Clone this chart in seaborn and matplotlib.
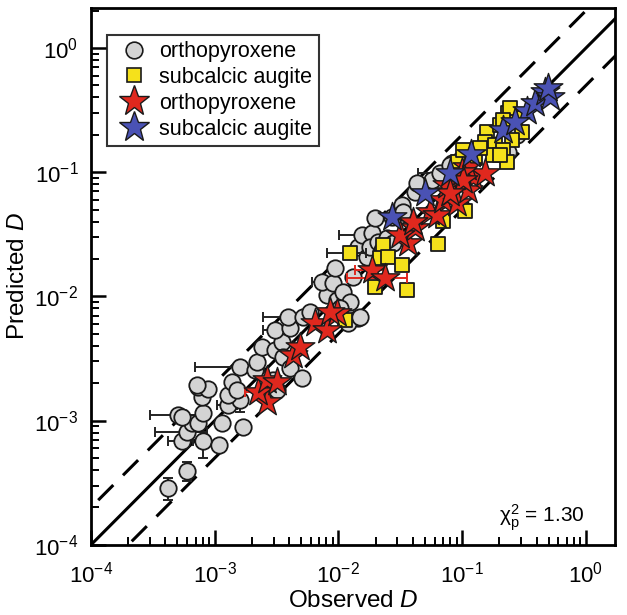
import numpy as np
import pandas as pd
import matplotlib
matplotlib.use("Agg")
import matplotlib.pyplot as plt
import seaborn as sns
from matplotlib.ticker import LogLocator, NullFormatter
from matplotlib.lines import Line2D

# ---------------- data ----------------
# grey circles: orthopyroxene (observed, predicted, x-error, y-error)
opx_obs = [4.19e-4, 5.97e-4, 5.43e-4, 8.04e-4, 1.08e-3, 5.97e-4, 6.55e-4, 7.32e-4, 5.05e-4, 5.43e-4,
           8.04e-4, 1.15e-3, 1.69e-3, 1.28e-3, 1.60e-3, 1.28e-3, 1.38e-3, 1.51e-3, 7.89e-4, 7.32e-4,
           8.81e-4, 7.19e-4, 1.60e-3, 2.11e-3, 2.19e-3, 2.41e-3, 3.07e-3, 3.49e-3, 3.56e-3, 4.06e-3,
           5.07e-3, 3.07e-3, 4.06e-3, 3.91e-3, 5.16e-3, 5.89e-3, 8.07e-3, 7.36e-3, 9.03e-3, 9.73e-3,
           1.09e-2, 2.96e-3, 3.18e-3, 9.37e-3, 1.24e-2, 1.03e-2, 1.44e-2, 1.19e-2, 1.44e-2, 1.70e-2,
           1.55e-2, 1.87e-2, 1.80e-2, 2.09e-2, 2.47e-2, 2.76e-2, 2.25e-2, 1.49e-2, 2.71e-2, 3.26e-2,
           3.14e-2, 4.15e-2, 4.31e-2, 5.70e-2, 8.26e-2, 9.59e-2, 1.97e-2, 1.31e-2, 6.61e-2, 7.96e-2,
           0.234, 0.277, 3.32e-2]
opx_pred = [2.88e-4, 3.94e-4, 6.87e-4, 6.87e-4, 6.38e-4, 8.12e-4, 9.60e-4, 9.60e-4, 1.11e-3, 1.07e-3,
            1.15e-3, 9.60e-4, 8.90e-4, 1.34e-3, 1.47e-3, 1.61e-3, 2.05e-3, 1.77e-3, 1.55e-3, 1.87e-3,
            1.80e-3, 1.94e-3, 2.71e-3, 2.56e-3, 2.97e-3, 3.92e-3, 3.71e-3, 4.30e-3, 3.26e-3, 2.66e-3,
            2.21e-3, 5.37e-3, 5.58e-3, 6.84e-3, 6.84e-3, 7.50e-3, 1.03e-2, 1.31e-2, 1.28e-2, 9.38e-3,
            1.09e-2, 2.13e-3, 1.77e-3, 1.70e-2, 9.03e-3, 8.07e-3, 6.71e-3, 6.12e-3, 2.50e-2, 2.08e-2,
            3.13e-2, 3.24e-2, 2.50e-2, 2.75e-2, 2.96e-2, 2.70e-2, 2.37e-2, 6.84e-3, 4.36e-2, 5.45e-2,
            4.53e-2, 6.93e-2, 8.19e-2, 8.67e-2, 0.119, 0.126, 4.28e-2, 1.44e-2, 9.86e-2, 0.114,
            0.146, 0.200, 4.79e-2]
opx_xerr = [0, 0, 1.25e-4, 0, 0, 2.7e-4, 0, 0, 2.05e-4, 0,
            0, 0, 0, 2.3e-4, 0, 0, 0, 0, 0, 0,
            0, 0, 9.1e-4, 0, 0, 0, 0, 0, 0, 0,
            0, 6.0e-4, 0, 1.45e-3, 0, 0, 0, 1.25e-3, 0, 0,
            0, 0, 0, 0, 0, 0, 0, 0, 0, 0,
            5.3e-3, 0, 0, 0, 0, 0, 0, 0, 0, 0,
            0, 0, 0, 0, 0, 0, 0, 0, 2.2e-2, 0,
            0, 0, 0]
opx_yerr = [0.6e-4, 0.7e-4, 0, 1.9e-4, 0, 0, 0, 0, 0, 0,
            0, 0, 0, 0, 3.0e-4, 0, 0, 0, 0, 0,
            0, 0, 0, 0, 0, 0, 0, 0, 0, 0,
            0, 0, 0, 0, 0, 0, 0, 0, 0, 0,
            0, 0, 0, 0, 0, 0, 0, 0, 0, 0,
            0, 0, 0, 0, 0, 0, 0, 0, 0, 0,
            0, 0, 0, 0, 0, 0, 0, 0, 0, 0,
            0, 0, 0]

# yellow squares: subcalcic augite
aug_obs = [1.24e-2, 2.29e-2, 2.16e-2, 2.51e-2, 3.26e-2, 1.97e-2, 3.58e-2, 6.37e-2, 6.99e-2, 0.105,
           9.24e-2, 0.101, 0.127, 0.158, 0.153, 0.184, 0.202, 0.234, 0.267, 0.304,
           0.252, 0.177, 0.213, 0.230, 0.202, 0.243, 0.213, 0.139, 1.13e-2]
aug_pred = [2.24e-2, 2.60e-2, 2.04e-2, 2.08e-2, 1.79e-2, 1.19e-2, 1.13e-2, 2.65e-2, 4.05e-2, 4.88e-2,
            0.121, 0.151, 0.130, 0.211, 0.175, 0.166, 0.240, 0.300, 0.273, 0.211,
            0.182, 0.138, 0.151, 0.121, 0.138, 0.329, 0.263, 0.157, 6.47e-3]
aug_xerr = [4.3e-3] + [0] * 28

# red stars: orthopyroxene (second set)
opx2_obs = [2.64e-3, 2.24e-3, 2.64e-3, 3.18e-3, 4.29e-3, 4.89e-3, 6.46e-3, 8.07e-3, 9.73e-3, 8.53e-3,
            1.87e-2, 2.38e-2, 3.65e-2, 4.15e-2, 3.14e-2, 5.49e-2, 6.25e-2, 6.99e-2, 8.26e-2, 9.07e-2,
            0.111, 0.122, 0.153, 0.109, 7.53e-2, 4.00e-2, 9.95e-2, 0.101, 7.96e-2]
opx2_pred = [1.42e-3, 1.70e-3, 2.13e-3, 2.05e-3, 3.38e-3, 3.92e-3, 6.12e-3, 5.37e-3, 7.36e-3, 7.50e-3,
             1.63e-2, 1.41e-2, 2.70e-2, 3.56e-2, 3.13e-2, 4.79e-2, 4.53e-2, 5.98e-2, 6.93e-2, 5.66e-2,
             7.19e-2, 9.16e-2, 9.86e-2, 0.110, 7.89e-2, 3.98e-2, 0.100, 8.67e-2, 6.81e-2]
opx2_xerr = [0, 4.9e-4, 0, 0, 0, 0, 0, 0, 0, 0,
             5.0e-3, 1.2e-2, 0, 0, 0, 0, 0, 0, 0, 0,
             0, 0, 0, 0, 0, 0, 0, 0, 0]

# blue stars: subcalcic augite (second set)
aug2_obs = [2.71e-2, 5.00e-2, 7.96e-2, 0.118, 0.213, 0.334, 0.387, 0.466, 0.512, 0.493, 0.267]
aug2_pred = [4.36e-2, 6.81e-2, 9.86e-2, 0.140, 0.219, 0.311, 0.361, 0.442, 0.403, 0.477, 0.254]

legend_labels = ["orthopyroxene", "subcalcic augite", "orthopyroxene", "subcalcic augite"]
chi_text = r"$\chi^{2}_{\mathrm{p}}$ = 1.30"
ratio = 2.0  # dashed envelope factor

# ---------------- style ----------------
sns.set_style("white")
plt.rcParams["font.family"] = ["Liberation Sans", "DejaVu Sans"]
plt.rcParams["mathtext.fontset"] = "custom"
plt.rcParams["mathtext.rm"] = "Liberation Sans"
plt.rcParams["mathtext.it"] = "Liberation Sans:italic"
plt.rcParams["mathtext.default"] = "regular"
for k in ["text.color", "axes.labelcolor", "xtick.color", "ytick.color", "axes.edgecolor"]:
    plt.rcParams[k] = "black"

fig = plt.figure(figsize=(6.27, 6.15), dpi=100)
ax = fig.add_axes([0.145, 0.114, 0.836, 0.873])
ax.set_xscale("log")
ax.set_yscale("log")
xlo, xhi = 1e-4, 1.72
ylo, yhi = 1e-4, 2.1
ax.set_xlim(xlo, xhi)
ax.set_ylim(ylo, yhi)

# reference lines
lx = np.array([1e-5, 10.0])
ax.plot(lx, lx, color="black", lw=2.2, zorder=1)
ax.plot(lx, lx * ratio, color="black", lw=2.2, ls=(0, (7, 4.5)), zorder=1)
ax.plot(lx, lx / ratio, color="black", lw=2.2, ls=(0, (7, 4.5)), zorder=1)

edge = "#1a1a1a"
grey = "#d4d4d4"
yellow = "#f5e11b"
red = "#e0281e"
blue = "#4a52b4"

df_opx = pd.DataFrame({"obs": opx_obs, "pred": opx_pred})
df_aug = pd.DataFrame({"obs": aug_obs, "pred": aug_pred})
df_opx2 = pd.DataFrame({"obs": opx2_obs, "pred": opx2_pred})
df_aug2 = pd.DataFrame({"obs": aug2_obs, "pred": aug2_pred})

def ebars(x, y, xe, ye, color, z):
    x = np.asarray(x); y = np.asarray(y); xe = np.asarray(xe); ye = np.asarray(ye)
    m = xe > 0
    if m.any():
        ax.errorbar(x[m], y[m], xerr=xe[m], fmt="none", ecolor=color, elinewidth=1.4,
                    capsize=3.5, capthick=1.4, zorder=z)
    m = ye > 0
    if m.any():
        ax.errorbar(x[m], y[m], yerr=ye[m], fmt="none", ecolor=color, elinewidth=1.4,
                    capsize=3.5, capthick=1.4, zorder=z)

ebars(opx_obs, opx_pred, opx_xerr, opx_yerr, "#222222", 2)
sns.scatterplot(data=df_opx, x="obs", y="pred", ax=ax, marker="o", s=140,
                color=grey, edgecolor=edge, linewidth=1.3, zorder=3, legend=False)
ebars(aug_obs, aug_pred, aug_xerr, [0] * len(aug_obs), "#222222", 4)
sns.scatterplot(data=df_aug, x="obs", y="pred", ax=ax, marker="s", s=90,
                color=yellow, edgecolor=edge, linewidth=1.3, zorder=5, legend=False)
ebars(opx2_obs, opx2_pred, opx2_xerr, [0] * len(opx2_obs), red, 6)
sns.scatterplot(data=df_opx2, x="obs", y="pred", ax=ax, marker="*", s=470,
                color=red, edgecolor=edge, linewidth=1.0, zorder=7, legend=False)
sns.scatterplot(data=df_aug2, x="obs", y="pred", ax=ax, marker="*", s=470,
                color=blue, edgecolor=edge, linewidth=1.0, zorder=8, legend=False)

ax.set_xlim(xlo, xhi)
ax.set_ylim(ylo, yhi)

# axes styling
for s in ax.spines.values():
    s.set_linewidth(2.0)
    s.set_color("black")
ax.xaxis.set_major_locator(LogLocator(base=10, numticks=10))
ax.yaxis.set_major_locator(LogLocator(base=10, numticks=10))
ax.xaxis.set_minor_locator(LogLocator(base=10, subs=np.arange(2, 10), numticks=20))
ax.yaxis.set_minor_locator(LogLocator(base=10, subs=np.arange(2, 10), numticks=20))
ax.xaxis.set_minor_formatter(NullFormatter())
ax.yaxis.set_minor_formatter(NullFormatter())
ax.tick_params(which="major", direction="in", length=11, width=1.8, labelsize=16,
               bottom=True, left=True, top=False, right=False, pad=9, colors="black")
ax.tick_params(axis="x", which="major", pad=12)
ax.tick_params(which="minor", direction="in", length=6, width=1.4,
               bottom=True, left=True, top=False, right=False, colors="black")

ax.set_xlabel("Observed $\\it{D}$", fontsize=17.5, labelpad=2)
ax.set_ylabel("Predicted $\\it{D}$", fontsize=17.5, labelpad=4)

ax.text(0.86, 0.05, chi_text, transform=ax.transAxes, fontsize=15, ha="center", va="center")

# legend
handles = [
    Line2D([], [], ls="none", marker="o", markersize=12, markerfacecolor=grey,
           markeredgecolor=edge, markeredgewidth=1.2),
    Line2D([], [], ls="none", marker="s", markersize=10, markerfacecolor=yellow,
           markeredgecolor=edge, markeredgewidth=1.2),
    Line2D([], [], ls="none", marker="*", markersize=23, markerfacecolor=red,
           markeredgecolor=edge, markeredgewidth=1.0),
    Line2D([], [], ls="none", marker="*", markersize=23, markerfacecolor=blue,
           markeredgecolor=edge, markeredgewidth=1.0),
]
leg = ax.legend(handles, legend_labels, loc="upper left", bbox_to_anchor=(0.03, 0.95),
                fontsize=15.5, frameon=True, fancybox=False, handletextpad=0.25,
                borderpad=0.3, labelspacing=0.22, handlelength=1.9, borderaxespad=0.0)
leg.get_frame().set_edgecolor("black")
leg.get_frame().set_linewidth(1.5)

fig.savefig("out.png", dpi=100)
